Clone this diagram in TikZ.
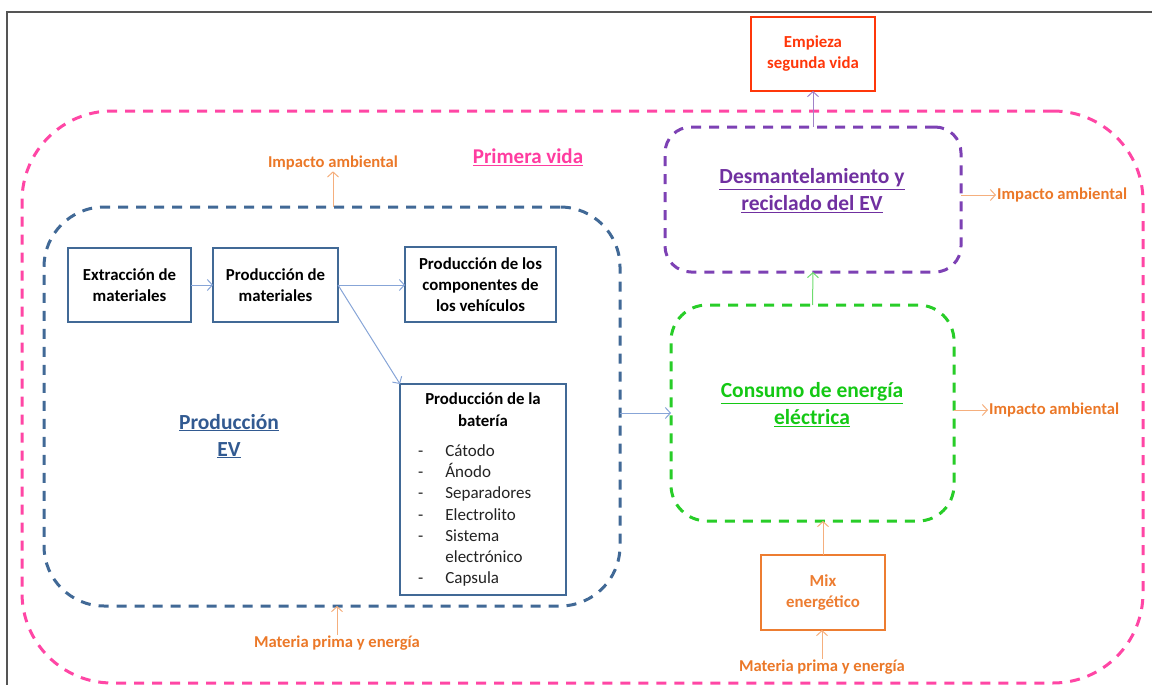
\documentclass[tikz,border=0pt]{standalone}
\usepackage{fontspec}
\setmainfont{Carlito}
\usetikzlibrary{arrows.meta}

\definecolor{pinkline}{RGB}{255,70,165}
\definecolor{pinktext}{RGB}{255,60,160}
\definecolor{evblue}{RGB}{65,105,150}
\definecolor{evtext}{RGB}{50,90,145}
\definecolor{arrowblue}{RGB}{135,165,215}
\definecolor{purpleline}{RGB}{125,65,180}
\definecolor{purpletext}{RGB}{112,48,160}
\definecolor{purplearrow}{RGB}{160,130,200}
\definecolor{greenline}{RGB}{40,205,40}
\definecolor{greentext}{RGB}{20,200,20}
\definecolor{greenarrow}{RGB}{110,220,110}
\definecolor{orangetext}{RGB}{235,120,40}
\definecolor{orangebox}{RGB}{237,125,49}
\definecolor{orangearrow}{RGB}{245,175,125}
\definecolor{redbox}{RGB}{255,55,10}
\definecolor{framegray}{RGB}{85,85,85}
\definecolor{listtext}{RGB}{35,35,35}

\begin{document}
\begin{tikzpicture}[x=1pt,y=-1pt,
  region/.style={draw=#1, line width=3pt, dash pattern=on 10pt off 8pt,
    inner sep=0pt, outer sep=0pt},
  procbox/.style={draw=evblue, line width=2.7pt, fill=white, inner sep=0pt,
    outer sep=0pt, align=center, text=black,
    font=\fontsize{16.8}{21}\selectfont\bfseries},
  colbox/.style={draw=#1, line width=2.7pt, fill=white, inner sep=0pt,
    outer sep=0pt, align=center, text=#1,
    font=\fontsize{16.8}{21}\selectfont\bfseries},
  flowlabel/.style={text=orangetext, inner sep=1pt,
    font=\fontsize{16.6}{19}\selectfont\bfseries},
  stagetitle/.style={align=center, font=\fontsize{21.5}{27}\selectfont\bfseries},
  arr/.style={-{Straight Barb[length=5pt,width=11pt]}, line width=1pt}]

\useasboundingbox (0,0) rectangle (1152,685);

% page frame
\draw[framegray, line width=1.3pt] (7,685) -- (7,12) -- (1152,12);

% life-cycle regions
\node[region=pinkline, rounded corners=90pt, minimum width=1121pt,
  minimum height=572pt] (vida) at (582.5,397) {};
\node[region=evblue, rounded corners=60pt, minimum width=576pt,
  minimum height=399pt] (prod) at (332,406.5) {};
\node[region=purpleline, rounded corners=26pt, minimum width=296pt,
  minimum height=145pt] (des) at (813,199.5) {};
\node[region=greenline, rounded corners=36pt, minimum width=283pt,
  minimum height=216pt] (cons) at (812.5,413) {};

% region titles
\node[text=pinktext, font=\fontsize{21}{24}\selectfont\bfseries] (primera) at (528,157) {\underline{Primera vida}};
\node[stagetitle, text=evtext] (prodlbl) at (229,436) {\underline{Producción}\\\underline{EV}};
\node[stagetitle, text=purpletext] (deslbl) at (812,191) {\underline{Desmantelamiento y}\\\underline{reciclado del EV}};
\node[stagetitle, text=greentext] (conslbl) at (812,405) {\underline{Consumo de energía}\\\underline{eléctrica}};

% production steps
\node[procbox, minimum width=123pt, minimum height=74pt] (ext) at (129.5,285) {Extracción de\\materiales};
\node[procbox, minimum width=125pt, minimum height=74pt] (pmat) at (275.5,285) {Producción de\\materiales};
\node[procbox, minimum width=151pt, minimum height=75pt] (comp) at (480.5,284.5) {Producción de los\\componentes de\\los vehículos};
\node[procbox, minimum width=166pt, minimum height=211pt] (bat) at (483,489.5) {};
\node[align=center, anchor=north, font=\fontsize{16.8}{22}\selectfont\bfseries] (battitle) at (483,389) {Producción de la\\batería};
\node[anchor=north west, inner sep=0pt, text=listtext, font=\fontsize{17}{21.3}\selectfont] (batlist) at (418,441)
  {\begin{tabular}{@{}l@{\hspace{22pt}}l@{}}
   - & Cátodo\\
   - & Ánodo\\
   - & Separadores\\
   - & Electrolito\\
   - & Sistema\\
     & electrónico\\
   - & Capsula
   \end{tabular}};

% second life and energy mix
\node[colbox=redbox, minimum width=124pt, minimum height=74pt] (emp) at (813,54) {Empieza\\segunda vida};
\node[colbox=orangebox, minimum width=124pt, minimum height=75pt] (mix) at (823,592.5) {Mix\\energético};

% flow labels
\node[flowlabel] (ia1) at (333,163) {Impacto ambiental};
\node[flowlabel, anchor=west] (ia2) at (996,195) {Impacto ambiental};
\node[flowlabel, anchor=west] (ia3) at (988,410) {Impacto ambiental};
\node[flowlabel] (mp1) at (337,643) {Materia prima y energía};
\node[flowlabel] (mp2) at (822,667) {Materia prima y energía};

% material flow inside production
\draw[arr, arrowblue] (ext) -- (pmat);
\draw[arr, arrowblue] (pmat.east) -- (comp.west |- pmat.east);
\draw[arr, arrowblue] (pmat.east) -- (bat.north west);
\draw[arr, arrowblue] (prod.east |- cons.west) -- (cons.west);

% stage transitions
\draw[arr, greenarrow] (cons.north) -- (des.south);
\draw[arr, purplearrow] (des.north) -- (emp.south);

% inputs and impacts
\draw[arr, orangearrow] (prod.north -| ia1) -- (ia1.south);
\draw[arr, orangearrow] (mp1.north) -- (mp1.north |- prod.south);
\draw[arr, orangearrow] (des.east |- ia2.west) -- (ia2.west);
\draw[arr, orangearrow] (cons.east |- ia3.west) -- (ia3.west);
\draw[arr, orangearrow] (mix.north) -- (mix.north |- cons.south);
\draw[arr, orangearrow] (mp2.north) -- (mp2.north |- mix.south);
\end{tikzpicture}
\end{document}
